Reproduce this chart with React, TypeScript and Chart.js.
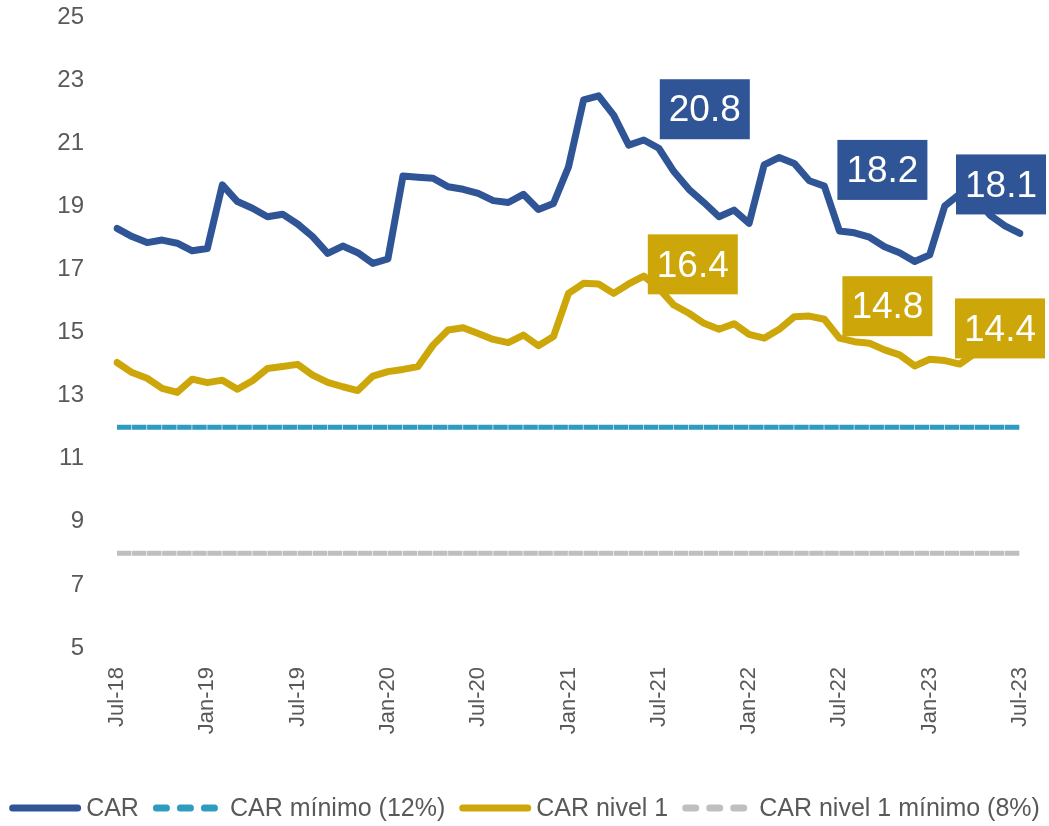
import { useEffect, useRef } from 'react';
import { Chart, registerables } from 'chart.js';

Chart.register(...registerables);

const MONTHS = [
  'Jul-18', 'Aug-18', 'Sep-18', 'Oct-18', 'Nov-18', 'Dec-18',
  'Jan-19', 'Feb-19', 'Mar-19', 'Apr-19', 'May-19', 'Jun-19',
  'Jul-19', 'Aug-19', 'Sep-19', 'Oct-19', 'Nov-19', 'Dec-19',
  'Jan-20', 'Feb-20', 'Mar-20', 'Apr-20', 'May-20', 'Jun-20',
  'Jul-20', 'Aug-20', 'Sep-20', 'Oct-20', 'Nov-20', 'Dec-20',
  'Jan-21', 'Feb-21', 'Mar-21', 'Apr-21', 'May-21', 'Jun-21',
  'Jul-21', 'Aug-21', 'Sep-21', 'Oct-21', 'Nov-21', 'Dec-21',
  'Jan-22', 'Feb-22', 'Mar-22', 'Apr-22', 'May-22', 'Jun-22',
  'Jul-22', 'Aug-22', 'Sep-22', 'Oct-22', 'Nov-22', 'Dec-22',
  'Jan-23', 'Feb-23', 'Mar-23', 'Apr-23', 'May-23', 'Jun-23',
  'Jul-23',
];

const TICK_LABELS = ['Jul-18', 'Jan-19', 'Jul-19', 'Jan-20', 'Jul-20', 'Jan-21', 'Jul-21', 'Jan-22', 'Jul-22', 'Jan-23', 'Jul-23'];

const CAR = [
  18.30, 18.04, 17.85, 17.93, 17.83, 17.59,
  17.66, 19.68, 19.15, 18.94, 18.67, 18.75,
  18.44, 18.04, 17.51, 17.74, 17.53, 17.19,
  17.33, 19.96, 19.92, 19.89, 19.62, 19.54,
  19.41, 19.18, 19.12, 19.38, 18.90, 19.09,
  20.25, 22.37, 22.50, 21.89, 20.94, 21.10,
  20.84, 20.10, 19.54, 19.12, 18.67, 18.88,
  18.46, 20.31, 20.55, 20.36, 19.81, 19.64,
  18.22, 18.16, 18.02, 17.72, 17.53, 17.25,
  17.46, 19.01, 19.39, 19.30, 18.72, 18.38,
  18.14,
];

const CAR_NIVEL1 = [
  14.05, 13.73, 13.55, 13.23, 13.10, 13.52,
  13.41, 13.49, 13.20, 13.47, 13.86, 13.92,
  13.99, 13.65, 13.42, 13.28, 13.16, 13.62,
  13.76, 13.83, 13.92, 14.60, 15.08, 15.15,
  14.97, 14.78, 14.68, 14.92, 14.58, 14.87,
  16.24, 16.56, 16.54, 16.24, 16.54, 16.79,
  16.40, 15.87, 15.61, 15.29, 15.10, 15.28,
  14.94, 14.82, 15.10, 15.50, 15.52, 15.42,
  14.82, 14.71, 14.66, 14.45, 14.29, 13.94,
  14.15, 14.11, 14.00, 14.34, 14.50, 14.50,
  14.40,
];

const CAR_MIN = 12;
const CAR_NIVEL1_MIN = 8;

const Y_MIN = 5;
const Y_MAX = 25;
const Y_STEP = 2;

const BLUE = '#2F5597';
const TEAL = '#2E9BC0';
const GOLD = '#CDA70A';
const GRAY = '#BFBFBF';
const TEXT = '#595959';
const FONT = '"Liberation Sans", Arial, sans-serif';

// callouts: dataset index, point index, box-center offset from point
const CALLOUTS = [
  { ds: 0, i: 36, dx: 46, dy: -39 },
  { ds: 0, i: 48, dx: 43, dy: -61 },
  { ds: 0, i: 60, dx: -19, dy: -49 },
  { ds: 2, i: 36, dx: 34, dy: -24 },
  { ds: 2, i: 48, dx: 48, dy: -32 },
  { ds: 2, i: 60, dx: -20, dy: -23 },
];

const LEGEND_ITEMS = [
  { text: 'CAR', color: BLUE, dashed: false },
  { text: 'CAR mínimo (12%)', color: TEAL, dashed: true },
  { text: 'CAR nivel 1', color: GOLD, dashed: false },
  { text: 'CAR nivel 1 mínimo (8%)', color: GRAY, dashed: true },
];

const calloutPlugin = {
  id: 'callouts',
  afterDatasetsDraw(chart: any) {
    const ctx = chart.ctx as CanvasRenderingContext2D;
    ctx.save();
    ctx.font = `37px ${FONT}`;
    ctx.textAlign = 'center';
    ctx.textBaseline = 'middle';
    for (const c of CALLOUTS) {
      const meta = chart.getDatasetMeta(c.ds);
      const pt = meta.data[c.i];
      const value = chart.data.datasets[c.ds].data[c.i] as number;
      const text = value.toFixed(1);
      const w = ctx.measureText(text).width + 18;
      const h = 60;
      const cx = pt.x + c.dx;
      const cy = pt.y + c.dy;
      ctx.fillStyle = chart.data.datasets[c.ds].borderColor;
      ctx.fillRect(cx - w / 2, cy - h / 2, w, h);
      ctx.fillStyle = '#ffffff';
      ctx.fillText(text, cx, cy + 2);
    }
    ctx.restore();
  },
};

const legendPlugin = {
  id: 'customLegend',
  afterDraw(chart: any) {
    const ctx = chart.ctx as CanvasRenderingContext2D;
    ctx.save();
    ctx.font = `25px ${FONT}`;
    ctx.textBaseline = 'middle';
    ctx.textAlign = 'left';
    const sample = 72;
    const gapAfterSample = 5;
    const gapBetween = 14;
    const widths = LEGEND_ITEMS.map((it) => ctx.measureText(it.text).width);
    const total = widths.reduce((a, b) => a + b, 0) + LEGEND_ITEMS.length * (sample + gapAfterSample) + (LEGEND_ITEMS.length - 1) * gapBetween;
    let x = (chart.width - total) / 2;
    const y = 808;
    LEGEND_ITEMS.forEach((it, k) => {
      ctx.strokeStyle = it.color;
      ctx.lineWidth = 7;
      ctx.lineCap = 'round';
      ctx.setLineDash(it.dashed ? [10, 14] : []);
      ctx.beginPath();
      ctx.moveTo(x + 3.5, y);
      ctx.lineTo(x + sample - 3.5, y);
      ctx.stroke();
      ctx.setLineDash([]);
      x += sample + gapAfterSample;
      ctx.fillStyle = TEXT;
      ctx.fillText(it.text, x, y + 1);
      x += widths[k] + gapBetween;
    });
    ctx.restore();
  },
};

export default function App() {
  const ref = useRef<HTMLCanvasElement>(null);

  useEffect(() => {
    const canvas = ref.current;
    if (!canvas) return;
    const chart = new Chart(canvas, {
      type: 'line',
      data: {
        labels: MONTHS,
        datasets: [
          {
            label: 'CAR',
            data: CAR,
            borderColor: BLUE,
            backgroundColor: BLUE,
            borderWidth: 7,
            pointRadius: 0,
            tension: 0,
            borderJoinStyle: 'round',
            borderCapStyle: 'round',
          },
          {
            label: 'CAR mínimo (12%)',
            data: MONTHS.map(() => CAR_MIN),
            borderColor: TEAL,
            backgroundColor: TEAL,
            borderWidth: 5,
            borderDash: [14.4, 0.65],
            pointRadius: 0,
            borderCapStyle: 'butt',
          },
          {
            label: 'CAR nivel 1',
            data: CAR_NIVEL1,
            borderColor: GOLD,
            backgroundColor: GOLD,
            borderWidth: 7,
            pointRadius: 0,
            tension: 0,
            borderJoinStyle: 'round',
            borderCapStyle: 'round',
          },
          {
            label: 'CAR nivel 1 mínimo (8%)',
            data: MONTHS.map(() => CAR_NIVEL1_MIN),
            borderColor: GRAY,
            backgroundColor: GRAY,
            borderWidth: 5,
            borderDash: [14.4, 0.65],
            pointRadius: 0,
            borderCapStyle: 'butt',
          },
        ],
      },
      options: {
        responsive: false,
        animation: false,
        devicePixelRatio: 1,
        layout: { padding: { left: 0, right: 29, top: 17, bottom: 0 } },
        plugins: {
          legend: { display: false },
          tooltip: { enabled: false },
        },
        scales: {
          x: {
            grid: { display: false, drawTicks: false },
            border: { display: false },
            afterFit: (s: any) => {
              s.height = 178;
              s.paddingLeft = 0;
              s.paddingRight = 0;
            },
            ticks: {
              autoSkip: false,
              minRotation: 90,
              maxRotation: 90,
              padding: 19,
              color: TEXT,
              font: { family: FONT, size: 22 },
              callback: (_v: any, idx: number) => (TICK_LABELS.includes(MONTHS[idx]) ? MONTHS[idx] : null),
            },
          },
          y: {
            min: Y_MIN,
            max: Y_MAX,
            grid: { display: false, drawTicks: false },
            border: { display: false },
            afterFit: (s: any) => {
              s.width = 117;
              s.paddingTop = 0;
              s.paddingBottom = 0;
            },
            ticks: {
              stepSize: Y_STEP,
              padding: 33,
              color: TEXT,
              font: { family: FONT, size: 24 },
            },
          },
        },
      },
      plugins: [calloutPlugin, legendPlugin],
    });
    return () => chart.destroy();
  }, []);

  return (
    <div style={{ position: 'absolute', left: 0, top: 0, width: 1049, height: 826, background: '#ffffff' }}>
      <canvas ref={ref} width={1049} height={826} style={{ display: 'block' }} />
    </div>
  );
}
